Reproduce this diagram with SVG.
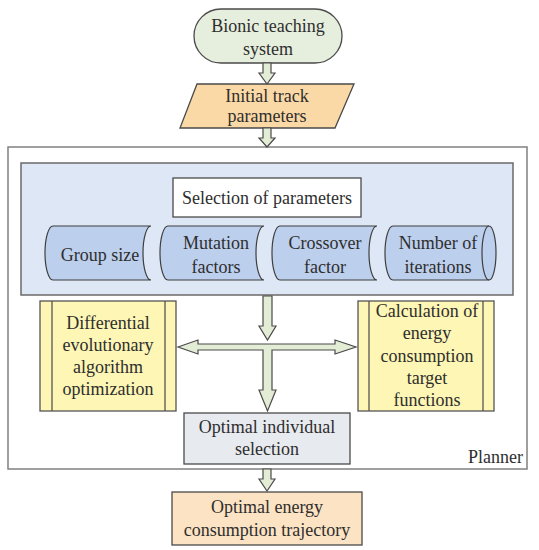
<svg xmlns="http://www.w3.org/2000/svg" width="539" height="550" viewBox="0 0 539 550">
<style>
  text { font-family: "Liberation Serif", "Times New Roman", "DejaVu Serif", serif; font-size: 18px; fill: #2e2e2e; text-anchor: middle; }
  .box { stroke: #4a4a4a; stroke-width: 1.3; }
  .arrow { fill: #e3ecd5; stroke: #4a4a4a; stroke-width: 1.2; stroke-linejoin: miter; }
  .tape { fill: #bccfec; stroke: #3e3e3e; stroke-width: 1.2; }
  .yellow { fill: #fdf6b4; stroke: #555; stroke-width: 1.3; }
</style>
<rect width="539" height="550" fill="#ffffff"/>

<g id="planner">
  <rect x="8" y="147" width="519" height="322" fill="#ffffff" stroke="#808080" stroke-width="1.5"/>
  <text x="523" y="463" font-family="Liberation Serif, serif" style="text-anchor:end">Planner</text>
</g>

<g id="param-panel">
  <rect x="21" y="163" width="492" height="132" fill="#dde7f5" stroke="#6a6a6a" stroke-width="1.5"/>
</g>

<g id="selection">
  <rect class="box" x="173" y="178" width="188" height="39" fill="#ffffff"/>
  <text x="267" y="204">Selection of parameters</text>
</g>

<g id="group-size">
  <path class="tape" d="M53,226 H151 A8,27 0 0 0 151,280 H53 A8,27 0 0 1 53,226 Z"/>
  <text x="100" y="261">Group size</text>
</g>
<g id="mutation">
  <path class="tape" d="M168,226 H264 A8,27 0 0 0 264,280 H168 A8,27 0 0 1 168,226 Z"/>
  <text x="216" y="249">Mutation</text>
  <text x="216" y="273">factors</text>
</g>
<g id="crossover">
  <path class="tape" d="M280,226 H377 A8,27 0 0 0 377,280 H280 A8,27 0 0 1 280,226 Z"/>
  <text x="325" y="249">Crossover</text>
  <text x="325" y="273">factor</text>
</g>
<g id="iterations">
  <path class="tape" d="M393,226 H489 A7,27 0 0 1 489,280 H393 A8,27 0 0 1 393,226 Z"/>
  <path d="M489,226 A7,27 0 0 0 489,280" fill="none" stroke="#3e3e3e" stroke-width="1.2"/>
  <text x="438" y="249">Number of</text>
  <text x="438" y="273">iterations</text>
</g>

<g id="bionic">
  <rect class="box" x="194" y="9" width="148" height="54" rx="27" ry="27" fill="#e6efdd"/>
  <text x="268" y="32">Bionic teaching</text>
  <text x="268" y="55">system</text>
</g>

<g id="initial">
  <polygon class="box" points="197,84 354,84 335,128 180,128" fill="#fbd9a6"/>
  <text x="267" y="102">Initial track</text>
  <text x="267" y="122">parameters</text>
</g>

<g id="differential">
  <rect class="yellow" x="40" y="301" width="136" height="110"/>
  <line x1="52" y1="301" x2="52" y2="411" stroke="#555" stroke-width="1.3"/>
  <line x1="165" y1="301" x2="165" y2="411" stroke="#555" stroke-width="1.3"/>
  <text x="108" y="329">Differential</text>
  <text x="108" y="351">evolutionary</text>
  <text x="108" y="373">algorithm</text>
  <text x="108" y="395">optimization</text>
</g>

<g id="calculation">
  <rect class="yellow" x="358" y="301" width="136" height="110"/>
  <line x1="369" y1="301" x2="369" y2="411" stroke="#555" stroke-width="1.3"/>
  <line x1="483" y1="301" x2="483" y2="411" stroke="#555" stroke-width="1.3"/>
  <text x="427" y="317">Calculation of</text>
  <text x="427" y="339">energy</text>
  <text x="427" y="362">consumption</text>
  <text x="427" y="384">target</text>
  <text x="427" y="406">functions</text>
</g>

<g id="optimal-individual">
  <rect class="box" x="184" y="413" width="166" height="51" fill="#e7eaee"/>
  <text x="267" y="433">Optimal individual</text>
  <text x="267" y="455">selection</text>
</g>

<g id="trajectory">
  <rect class="box" x="172" y="492" width="190" height="53" fill="#fce3c3"/>
  <text x="267" y="513">Optimal energy</text>
  <text x="267" y="536">consumption trajectory</text>
</g>

<g id="connectors">
  <polygon class="arrow" points="263,63 271,63 271,73 275,73 267,84 259,73 263,73"/>
  <polygon class="arrow" points="263,128 271,128 271,138 275,138 267,147 259,138 263,138"/>
  <polygon class="arrow" points="263,296 272,296 272,326 276,326 267.5,340 259,326 263,326"/>
  <polygon class="arrow" points="178,347 198,340 198,344 335,344 335,340 356,347 335,354 335,350 272,350 272,390 276,390 267.5,411 259,390 263,390 263,350 198,350 198,354"/>
  <polygon class="arrow" points="263,469 271,469 271,479 275,479 267,491 259,479 263,479"/>
</g>
</svg>
